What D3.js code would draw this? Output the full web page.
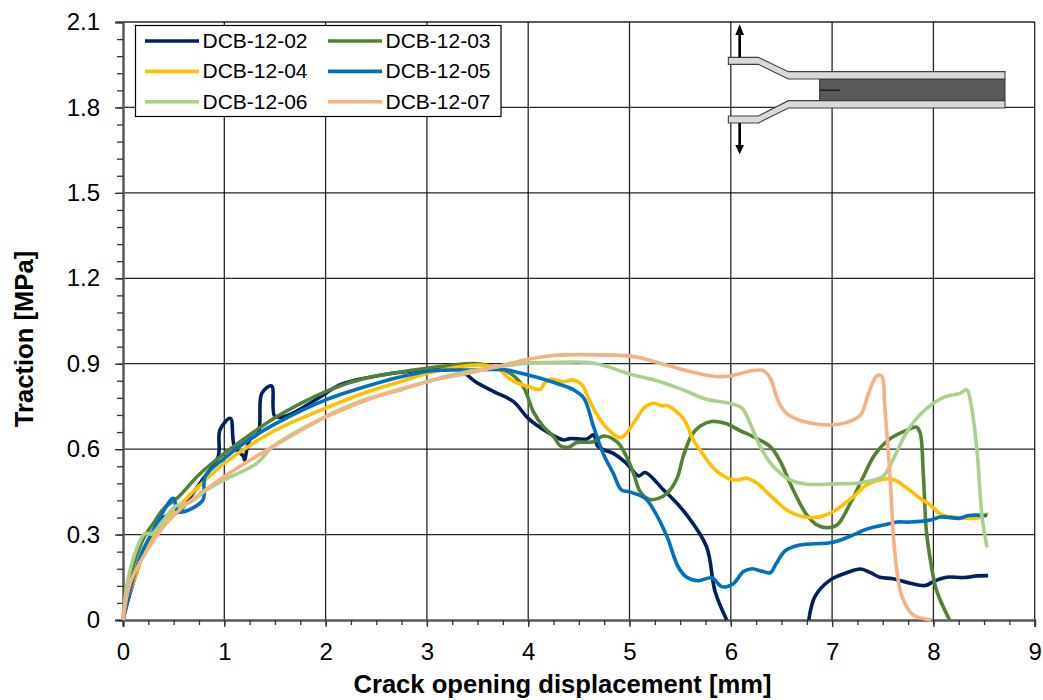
<!DOCTYPE html>
<html><head><meta charset="utf-8">
<script src="https://cdnjs.cloudflare.com/ajax/libs/d3/7.8.5/d3.min.js"></script>
<style>html,body{margin:0;background:#fff}svg{display:block}text{font-family:"Liberation Sans",Arial,sans-serif;fill:#000}</style>
</head><body><div id="c"></div>
<script>
const xTicks=[0,1,2,3,4,5,6,7,8,9];
const yTicks=[0,0.3,0.6,0.9,1.2,1.5,1.8,2.1];
const yLabels=["0","0.3","0.6","0.9","1.2","1.5","1.8","2.1"];
const names=["DCB-12-02","DCB-12-03","DCB-12-04","DCB-12-05","DCB-12-06","DCB-12-07"];
const colors=["#002060","#548235","#ffc000","#0070c0","#a9d18e","#f4b183"];
const s02=[[0,0],[.05,.07],[.1,.129],[.2,.234],[.3,.31],[.4,.36],[.55,.38],[.7,.45],[.8,.5],[.94,.574],[.957,.667],[1.06,.708],[1.1,.609],[1.19,.574],[1.2,.562],[1.25,.632],[1.335,.656],[1.37,.796],[1.467,.822],[1.5,.714],[1.615,.717],[1.845,.761],[1.977,.79],[2.14,.826],[2.5,.857],[2.9,.876],[3.3,.885],[3.395,.861],[3.48,.837],[3.66,.802],[3.855,.767],[4,.708],[4.18,.662],[4.35,.632],[4.41,.637],[4.58,.636],[4.645,.65],[4.69,.609],[4.84,.585],[4.97,.55],[5.09,.506],[5.155,.518],[5.335,.457],[5.43,.424],[5.565,.369],[5.76,.258],[5.845,.1],[5.96,0],null,[6.77,0],[6.83,.082],[6.98,.14],[7.145,.166],[7.28,.179],[7.375,.167],[7.47,.15],[7.6,.145],[7.77,.129],[7.92,.121],[8,.135],[8.13,.15],[8.3,.149],[8.43,.155],[8.54,.156]];
const s03=[[0,0],[.02,.06],[.05,.12],[.1,.19],[.15,.24],[.2,.285],[.3,.34],[.4,.39],[.55,.433],[.75,.51],[1,.585],[1.25,.65],[1.5,.71],[1.75,.76],[2,.802],[2.25,.835],[2.5,.857],[2.83,.876],[3.2,.893],[3.5,.9],[3.7,.885],[3.82,.867],[3.95,.82],[4,.779],[4.05,.732],[4.15,.679],[4.25,.644],[4.32,.611],[4.4,.607],[4.48,.623],[4.645,.626],[4.74,.646],[4.875,.626],[4.97,.574],[5.04,.515],[5.105,.451],[5.19,.424],[5.286,.427],[5.37,.445],[5.47,.498],[5.53,.574],[5.615,.65],[5.7,.681],[5.81,.697],[5.96,.689],[6.09,.665],[6.22,.644],[6.39,.609],[6.49,.556],[6.585,.48],[6.75,.369],[6.85,.334],[6.95,.324],[7.05,.334],[7.18,.41],[7.31,.504],[7.42,.58],[7.57,.636],[7.74,.667],[7.835,.677],[7.87,.656],[7.9,.515],[7.93,.316],[7.97,.211],[8.03,.105],[8.16,0]];
const s04=[[0,0],[.05,.08],[.1,.13],[.25,.27],[.53,.39],[.75,.47],[1,.55],[1.48,.662],[2,.744],[2.4,.8],[2.74,.837],[3.07,.872],[3.53,.895],[3.72,.878],[3.79,.855],[3.87,.835],[4,.82],[4.12,.81],[4.16,.831],[4.22,.845],[4.35,.837],[4.45,.843],[4.53,.826],[4.61,.767],[4.71,.703],[4.81,.662],[4.91,.64],[4.97,.656],[5.07,.708],[5.155,.749],[5.24,.761],[5.32,.752],[5.37,.753],[5.53,.708],[5.63,.632],[5.73,.58],[5.83,.533],[5.99,.495],[6.07,.492],[6.16,.498],[6.26,.48],[6.42,.427],[6.58,.38],[6.75,.361],[6.88,.363],[7.01,.38],[7.21,.433],[7.34,.474],[7.5,.494],[7.6,.494],[7.74,.463],[7.87,.427],[7.97,.404],[8.07,.372],[8.16,.363],[8.39,.357],[8.49,.363],[8.54,.375]];
const s05=[[0,0],[.08,.12],[.184,.234],[.283,.304],[.497,.427],[.546,.38],[.786,.42],[.81,.503],[1,.568],[1.25,.635],[1.484,.685],[2,.773],[2.5,.831],[2.83,.861],[3.07,.876],[3.395,.878],[3.79,.878],[3.89,.87],[4.12,.849],[4.32,.826],[4.45,.808],[4.55,.779],[4.645,.679],[4.74,.585],[4.84,.515],[4.92,.457],[5,.45],[5.155,.427],[5.24,.386],[5.37,.293],[5.48,.187],[5.565,.15],[5.68,.138],[5.81,.148],[5.91,.117],[5.96,.117],[6.03,.129],[6.125,.17],[6.21,.18],[6.31,.171],[6.39,.166],[6.45,.199],[6.54,.244],[6.68,.263],[7.01,.273],[7.21,.299],[7.34,.319],[7.54,.336],[7.64,.344],[7.77,.344],[7.97,.351],[8.07,.362],[8.26,.357],[8.345,.367],[8.53,.367]];
const s06=[[0,0],[.036,.117],[.118,.234],[.217,.304],[.283,.302],[.4,.351],[.53,.402],[.66,.413],[.826,.457],[1,.492],[1.32,.55],[1.48,.609],[2,.714],[2.4,.775],[2.74,.808],[3.07,.845],[3.395,.872],[3.72,.89],[4,.902],[4.32,.905],[4.61,.904],[4.78,.89],[5,.864],[5.3,.837],[5.53,.808],[5.76,.775],[5.99,.761],[6.11,.744],[6.19,.691],[6.29,.609],[6.42,.539],[6.585,.492],[6.75,.477],[7.01,.478],[7.28,.482],[7.5,.504],[7.6,.562],[7.74,.662],[7.9,.732],[8.1,.782],[8.26,.796],[8.33,.808],[8.37,.761],[8.43,.597],[8.48,.363],[8.53,.255]];
const s07=[[0,0],[.07,.129],[.2,.222],[.4,.328],[.595,.398],[.79,.451],[1,.504],[1.48,.609],[2,.712],[2.5,.785],[2.83,.82],[3.07,.843],[3.395,.866],[3.72,.892],[4,.916],[4.25,.929],[4.51,.932],[5.05,.925],[5.25,.907],[5.57,.875],[5.86,.855],[5.99,.857],[6.225,.876],[6.32,.876],[6.39,.849],[6.47,.767],[6.55,.726],[6.72,.697],[6.98,.685],[7.145,.694],[7.28,.72],[7.36,.796],[7.44,.857],[7.49,.857],[7.52,.749],[7.57,.515],[7.62,.234],[7.69,.082],[7.8,.018],[7.98,0]];
const seriesData=[s02,s03,s04,s05,s06,s07];

const svg=d3.select("#c").append("svg").attr("width",1043).attr("height",700);
const x=d3.scaleLinear().domain([0,9]).range([123,1034.7]);
const y=d3.scaleLinear().domain([0,2.1]).range([620,22]);

// gridlines
svg.append("g").selectAll("line").data(xTicks.slice(1)).join("line")
 .attr("x1",d=>x(d)).attr("x2",d=>x(d)).attr("y1",y(2.1)).attr("y2",620)
 .attr("stroke","#000").attr("stroke-width",1.3).attr("opacity",.85);
svg.append("g").selectAll("line").data(yTicks.slice(1)).join("line")
 .attr("x1",123).attr("x2",1034.7).attr("y1",d=>y(d)).attr("y2",d=>y(d))
 .attr("stroke","#000").attr("stroke-width",1.3).attr("opacity",.85);

// axes
const xAxis=d3.axisBottom(x).tickValues(xTicks).tickSize(7).tickPadding(16).tickFormat(d3.format("d"));
const yAxis=d3.axisLeft(y).tickValues(yTicks).tickSize(8).tickPadding(15).tickFormat((d,i)=>yLabels[i]);
const gx=svg.append("g").attr("transform","translate(0,620)").call(xAxis);
const gy=svg.append("g").attr("transform","translate(123,0)").call(yAxis);
const xMin=d3.axisBottom(x).tickValues(d3.range(0,37).map(i=>i/4)).tickSize(5).tickFormat("");
const yMin=d3.axisLeft(y).tickValues(d3.range(0,36).map(i=>i*0.06)).tickSize(6).tickFormat("");
const gxm=svg.append("g").attr("transform","translate(0,620)").call(xMin);
const gym=svg.append("g").attr("transform","translate(123,0)").call(yMin);
[gx,gy,gxm,gym].forEach(g=>{g.selectAll(".domain").attr("stroke","#595959").attr("stroke-width",2);
 g.selectAll("line").attr("stroke","#333").attr("stroke-width",1.3);
 g.selectAll("text").attr("font-size",24).attr("font-family",'"Liberation Sans",Arial,sans-serif').attr("fill","#000");});

// series
const line=d3.line().defined(d=>d).x(d=>x(d[0])).y(d=>y(d[1])).curve(d3.curveCatmullRom.alpha(.5));
svg.append("g").selectAll("path").data(seriesData).join("path")
 .attr("d",line).attr("fill","none").attr("stroke",(d,i)=>colors[i]).attr("stroke-width",3.6).attr("stroke-linejoin","round");

// axis titles
svg.append("text").attr("x",562.5).attr("y",693).attr("text-anchor","middle").attr("font-size",25.6).attr("font-weight","bold").text("Crack opening displacement [mm]");
svg.append("text").attr("transform","translate(33,339) rotate(-90)").attr("text-anchor","middle").attr("font-size",25.6).attr("font-weight","bold").text("Traction [MPa]");

// legend
svg.append("rect").attr("x",135.5).attr("y",25.5).attr("width",365.5).attr("height",91).attr("fill","#fff").attr("stroke","#000").attr("stroke-width",1.2);
const lg=svg.append("g").selectAll("g").data(names).join("g")
 .attr("transform",(d,i)=>`translate(${i%2?328:145},${41+Math.floor(i/2)*30.4})`);
lg.append("line").attr("x1",0).attr("x2",54).attr("stroke",(d,i)=>colors[i]).attr("stroke-width",3.6);
lg.append("text").attr("x",57.5).attr("y",7).attr("font-size",21).text(d=>d);

// specimen schematic
const Z=(a,b)=>[710+a/3,15+b/3];
const poly=p=>"M"+p.map(q=>Z(q[0],q[1]).join(",")).join("L")+"Z";
const ins=svg.append("g");
ins.append("path").attr("d",poly([[329,192],[885,192],[885,257],[329,257]])).attr("fill","#595959").attr("stroke","#333").attr("stroke-width",1);
ins.append("path").attr("d",poly([[55,127],[145,127],[235,170],[885,170],[885,192],[235,192],[145,148],[55,148]])).attr("fill","#d9d9d9").attr("stroke","#404040").attr("stroke-width",1.1);
ins.append("path").attr("d",poly([[55,303],[145,303],[235,257],[885,257],[885,279],[235,279],[145,324],[55,324]])).attr("fill","#d9d9d9").attr("stroke","#404040").attr("stroke-width",1.1);
ins.append("path").attr("d",poly([[329,224],[390,224],[390,227],[329,227]])).attr("fill","#000");
ins.append("path").attr("d",poly([[85,127],[85,60],[76,60],[89,28],[102,60],[93,60],[93,127]])).attr("fill","#000");
ins.append("path").attr("d",poly([[85,324],[85,390],[76,390],[89,418],[102,390],[93,390],[93,324]])).attr("fill","#000");
</script></body></html>
